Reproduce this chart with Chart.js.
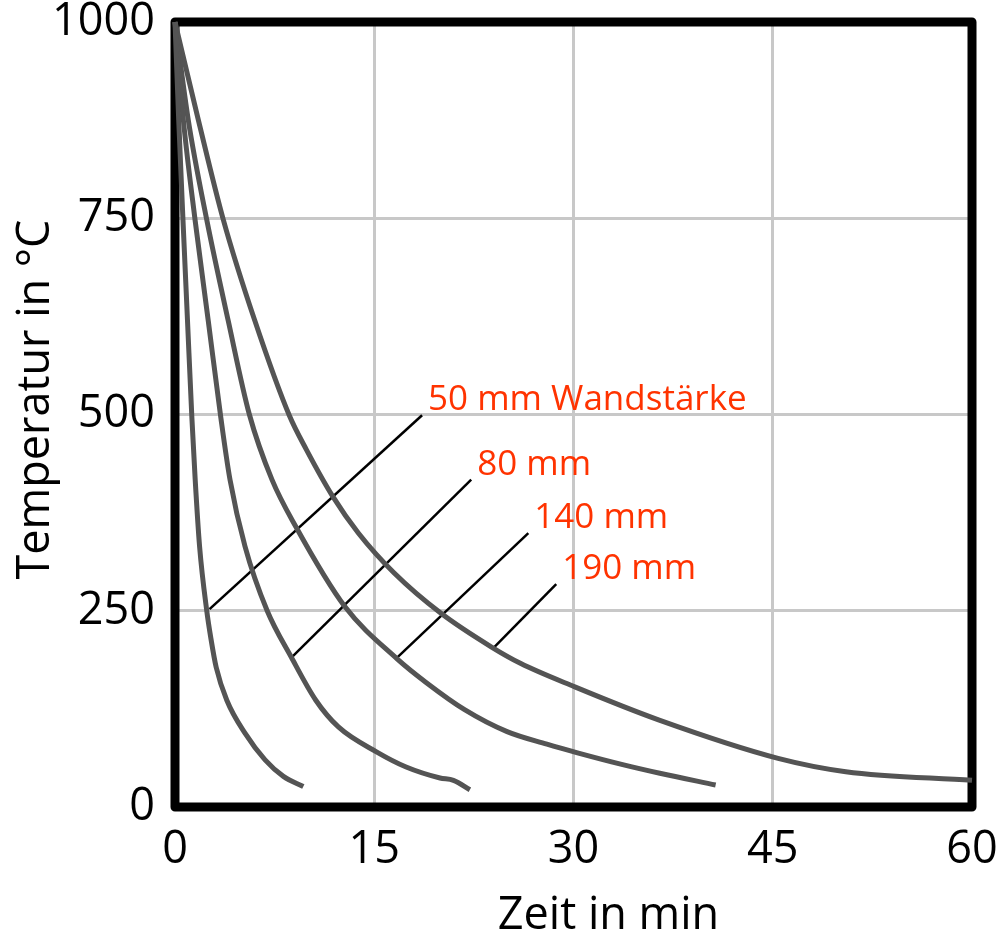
<!DOCTYPE html>
<html>
<head>
<meta charset="utf-8">
<script src="https://cdn.jsdelivr.net/npm/chart.js@4.4.1/dist/chart.umd.min.js"></script>
<style>
body{margin:0;background:#fff;}
</style>
</head>
<body>
<canvas id="abkuehl_chart" width="1001" height="933"></canvas>
<script>
//Abkuehlkurven, Zeit in min und Temperatur in °C, eine Kurve je Wandstaerke
const zeit_50 = [0, 0.28, 0.6, 0.94, 1.27, 1.52, 1.85, 2.39, 2.7, 3.1, 3.9, 5.27, 6.78, 8.16, 9.66];
const temp_50 = [1000, 875, 748, 620, 496, 417, 332, 250, 215, 178, 136, 94, 60, 39, 26];

const zeit_80 = [0, 0.63, 1.51, 2.5, 3.45, 4.14, 5.27, 6.94, 8.75, 10.6, 12.3, 15.2, 17.4, 19.95, 20.96, 22.2];
const temp_80 = [1000, 875, 748, 620, 496, 417, 332, 250, 191, 136, 102, 70, 51, 37, 34, 22];

const zeit_140 = [0, 1.0, 2.39, 4.0, 5.6, 7.3, 9.1, 12.8, 16.7, 18.95, 21.8, 25.0, 28.0, 30.3, 33.7, 36.5, 40.7];
const temp_140 = [1000, 875, 748, 620, 500, 417, 357, 255, 189, 158, 124, 96, 80, 69, 54, 43, 28];

const zeit_190 = [0, 1.76, 3.64, 6.0, 8.6, 9.9, 11.9, 13.8, 16.5, 20.0, 23.8, 26.0, 30.1, 36.4, 45.4, 50.5, 60];
const temp_190 = [1000, 875, 748, 620, 499, 455, 395, 349, 298, 247, 204, 183, 153, 111, 62, 45, 34];

//Beschriftungen und die Hinweislinien von der Kurve zum Text
const beschriftung = ["50 mm Wandstärke", "80 mm", "140 mm", "190 mm"];
const hinweis_zeit = [[2.6, 18.6], [8.8, 22.3], [16.7, 26.6], [24.0, 28.7]];
const hinweis_temp = [[252, 499], [191, 417], [190, 349], [203, 284]];

//Achsen
const x_ticks = [0, 15, 30, 45, 60];
const y_ticks = [0, 250, 500, 750, 1000];
const x_titel = "Zeit in min";
const y_titel = "Temperatur in °C";

function punkte(xs, ys){
    var arr = [];
    for(let i = 0;i < xs.length;i++){
        arr.push({x: xs[i], y: ys[i]});
    }
    return arr;
}

var datasets = [];
var kurven = [[zeit_50, temp_50], [zeit_80, temp_80], [zeit_140, temp_140], [zeit_190, temp_190]];
for(let i = 0;i < kurven.length;i++){
    datasets.push({
        data: punkte(kurven[i][0], kurven[i][1]),
        borderColor: "#545454",
        borderWidth: 5,
        cubicInterpolationMode: "monotone",
        borderCapStyle: "butt",
        pointRadius: 0,
        clip: false
    });
}
for(let i = 0;i < hinweis_zeit.length;i++){
    datasets.push({
        data: punkte(hinweis_zeit[i], hinweis_temp[i]),
        borderColor: "#000000",
        borderWidth: 2.5,
        tension: 0,
        pointRadius: 0,
        clip: false
    });
}

//Rahmen, rote Texte und Achsentitel
const extras = {
    id: "extras",
    beforeDatasetsDraw(chart){
        var a = chart.chartArea;
        var ctx = chart.ctx;
        ctx.save();
        ctx.strokeStyle = "#000000";
        ctx.lineWidth = 9;
        ctx.lineJoin = "round";
        ctx.strokeRect(a.left, a.top, a.right - a.left, a.bottom - a.top);
        ctx.restore();
    },
    afterDraw(chart){
        var ctx = chart.ctx;
        var a = chart.chartArea;
        var xs = chart.scales.x;
        var ys = chart.scales.y;
        ctx.save();
        ctx.font = '35px "Open Sans"';
        ctx.fillStyle = "#ff3300";
        ctx.textAlign = "left";
        ctx.textBaseline = "alphabetic";
        for(let i = 0;i < beschriftung.length;i++){
            var px = xs.getPixelForValue(hinweis_zeit[i][1]);
            var py = ys.getPixelForValue(hinweis_temp[i][1]);
            ctx.fillText(beschriftung[i], px + 6, py - 5);
        }
        ctx.fillStyle = "#000000";
        ctx.font = '45px "Open Sans"';
        ctx.textAlign = "center";
        ctx.fillText(x_titel, (a.left + a.right) / 2 + 35, chart.height - 4);
        ctx.translate(49, (a.top + a.bottom) / 2 - 15);
        ctx.rotate(-Math.PI / 2);
        ctx.fillText(y_titel, 0, 0);
        ctx.restore();
    }
};

var chrt_ctx = document.getElementById("abkuehl_chart").getContext("2d");
const chrt = new Chart(chrt_ctx, {
    type: "line",
    data: {datasets: datasets},
    options: {
        responsive: false,
        animation: false,
        layout: {padding: {left: 0, top: 22, right: 29, bottom: 0}},
        plugins: {legend: {display: false}, tooltip: {enabled: false}},
        scales: {
            x: {
                type: "linear",
                min: 0,
                max: 60,
                afterBuildTicks: function(scale){
                    scale.ticks = x_ticks.map(v => ({value: v}));
                },
                afterFit: function(scale){
                    scale.height = 126;
                    scale.paddingLeft = 0;
                    scale.paddingRight = 0;
                },
                grid: {color: "#c8c8c8", lineWidth: 3, drawTicks: false},
                border: {display: false},
                ticks: {
                    color: "#000000",
                    font: {family: "Open Sans", size: 45},
                    padding: 16,
                    maxRotation: 0,
                    autoSkip: false,
                    callback: function(v){ return String(v); }
                }
            },
            y: {
                min: 0,
                max: 1000,
                afterBuildTicks: function(scale){
                    scale.ticks = y_ticks.map(v => ({value: v}));
                },
                afterFit: function(scale){
                    scale.width = 175;
                    scale.paddingTop = 0;
                    scale.paddingBottom = 0;
                },
                grid: {color: "#c8c8c8", lineWidth: 3, drawTicks: false},
                border: {display: false},
                ticks: {
                    color: "#000000",
                    font: {family: "Open Sans", size: 45},
                    padding: 20,
                    autoSkip: false,
                    callback: function(v){ return String(v); }
                }
            }
        }
    },
    plugins: [extras]
});
</script>
</body>
</html>
